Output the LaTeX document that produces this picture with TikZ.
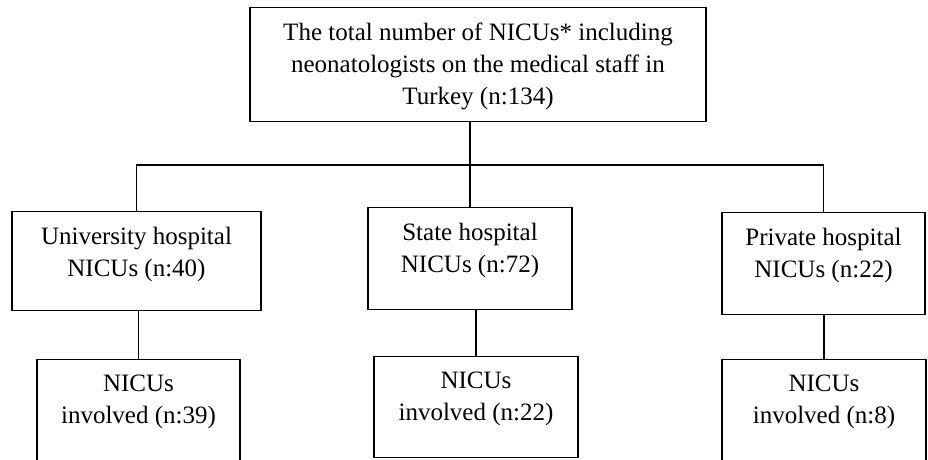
\documentclass[tikz,border=0pt]{standalone}
\usepackage{fontspec}
\setmainfont{Liberation Serif}
\usetikzlibrary{positioning}
\begin{document}
\begin{tikzpicture}
    [x=1pt,y=1pt,line width=1.3pt,
     every node/.style={font=\fontsize{25}{32}\selectfont},
     box/.style={draw,rectangle,inner sep=0pt,anchor=north},
     txt/.style={align=center,inner sep=0pt}]
    \useasboundingbox (0,0) rectangle (928,-459);

    \node[box,minimum width=456pt,minimum height=114pt] (top) at (478,-7) {};
    \node[txt,below=15pt of top.north] (topT) {The total number of NICUs* including\\neonatologists on the medical staff in\\Turkey (n:134)};

    \node[box,minimum width=249pt,minimum height=99pt] (uni) at (136.5,-211) {};
    \node[box,minimum width=204pt,minimum height=102pt] (state) at (470,-207) {};
    \node[box,minimum width=203pt,minimum height=102pt] (priv) at (823.5,-212) {};
    \node[txt,below=15pt of uni.north] (uniT) {University hospital\\NICUs (n:40)};
    \node[txt,below=15pt of state.north] (stateT) {State hospital\\NICUs (n:72)};
    \node[txt,below=15pt of priv.north] (privT) {Private hospital\\NICUs (n:22)};

    \node[box,minimum width=203pt,minimum height=115pt] (uniIn) at (138.5,-359) {};
    \node[box,minimum width=204pt,minimum height=101pt] (stateIn) at (476,-356) {};
    \node[box,minimum width=204pt,minimum height=115pt] (privIn) at (824,-359) {};
    \node[txt,below=15pt of uniIn.north] (uniInT) {NICUs\\involved (n:39)};
    \node[txt,below=15pt of stateIn.north] (stateInT) {NICUs\\involved (n:22)};
    \node[txt,below=15pt of privIn.north] (privInT) {NICUs\\involved (n:8)};

    \coordinate (bus) at (470,-165);
    \draw (state.north |- top.south) -- (state.north);
    \draw (uni.north) |- (bus) -| (priv.north);
    \draw (uniIn.north |- uni.south) -- (uniIn.north);
    \draw (stateIn.north |- state.south) -- (stateIn.north);
    \draw (privIn.north |- priv.south) -- (privIn.north);
\end{tikzpicture}
\end{document}
